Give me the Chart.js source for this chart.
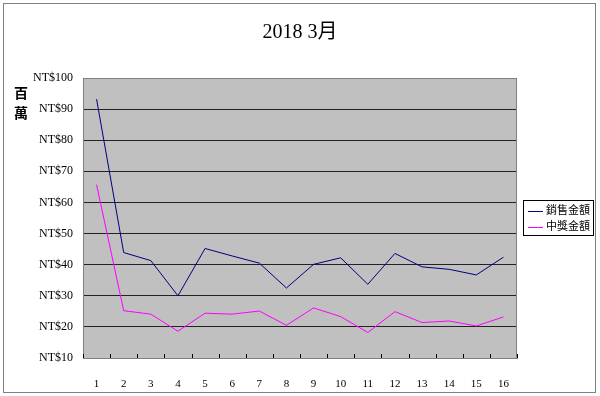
<!DOCTYPE html>
<html>
<head>
<meta charset="utf-8">
<script src="https://cdn.jsdelivr.net/npm/chart.js@4"></script>
<style>
  body { margin: 0; background: #fff; }
  #wrap { position: relative; width: 600px; height: 396px; }
  #frame { position: absolute; left: 3px; top: 3px; width: 591px; height: 388px;
           border: 1px solid #808080; pointer-events: none; }
  #unit { position: absolute; left: 14px; top: 82px; font: bold 14px "Noto Sans CJK TC";
          line-height: 20px; color: #000; }
  #legend { position: absolute; left: 523px; top: 200px; width: 69px; height: 34px;
            border: 1px solid #000; font: 11px "Noto Sans CJK TC"; color: #000; }
  #legend div { height: 15px; line-height: 15px; margin-top: 1px; white-space: nowrap; }
  #legend span.ln { display: inline-block; width: 15px; height: 0; border-top: 1px solid;
                    vertical-align: middle; margin: 0 3px 0 4px; }
</style>
</head>
<body>
<div id="wrap">
  <canvas id="chart" width="600" height="396"></canvas>
  <div id="unit">百<br>萬</div>
  <div id="legend"></div>
  <div id="frame"></div>
</div>
<script>
  // data (millions NT$)
  const days = ['1','2','3','4','5','6','7','8','9','10','11','12','13','14','15','16'];
  const sales = [93.2, 43.9, 41.3, 30.0, 45.2, 42.8, 40.5, 32.5, 40.1, 42.2, 33.7, 43.6, 39.3, 38.5, 36.7, 42.4];
  const prizes = [65.7, 25.2, 24.1, 18.6, 24.4, 24.1, 25.1, 20.5, 26.1, 23.3, 18.2, 24.9, 21.4, 21.9, 20.3, 23.2];
  const seriesNames = ['銷售金額', '中獎金額'];
  const seriesColors = ['#000080', '#ff00ff'];

  // grey plot area with frame
  const plotBg = {
    id: 'plotBg',
    beforeDraw(chart) {
      const { ctx, chartArea: a } = chart;
      ctx.save();
      ctx.fillStyle = '#c0c0c0';
      ctx.fillRect(a.left, a.top, a.right - a.left, a.bottom - a.top);
      ctx.restore();
    },
    afterDatasetsDraw(chart) {
      const { ctx, chartArea: a } = chart;
      const x = chart.scales.x;
      ctx.save();
      ctx.strokeStyle = '#808080';
      ctx.lineWidth = 1;
      ctx.strokeRect(a.left + 0.5, a.top + 0.5, a.right - a.left - 1, a.bottom - a.top);
      // small tick marks inside the plot
      ctx.strokeStyle = '#000';
      ctx.beginPath();
      for (let i = 0; i <= days.length; i++) {
        const px = Math.round(x.getPixelForValue(i - 0.5)) + 0.5;
        ctx.moveTo(px, a.bottom);
        ctx.lineTo(px, a.bottom - 4);
      }
      ctx.stroke();
      ctx.restore();
    }
  };

  new Chart(document.getElementById('chart'), {
    type: 'line',
    data: {
      labels: days,
      datasets: [{
        label: seriesNames[0],
        data: sales,
        borderColor: seriesColors[0],
        borderWidth: 1,
        pointRadius: 0,
        tension: 0
      }, {
        label: seriesNames[1],
        data: prizes,
        borderColor: seriesColors[1],
        borderWidth: 1,
        pointRadius: 0,
        tension: 0
      }]
    },
    options: {
      responsive: false,
      animation: false,
      layout: { padding: { left: 0, right: 0, top: 21, bottom: 0 } },
      plugins: {
        legend: { display: false },
        tooltip: { enabled: false },
        title: {
          display: true,
          text: '2018 3月',
          color: '#000',
          font: { family: '"Liberation Serif", "Noto Sans CJK TC"', size: 20, weight: 'normal' },
          padding: { top: 0, bottom: 33 }
        }
      },
      scales: {
        x: {
          offset: true,
          grid: { display: false },
          border: { display: true, color: '#808080' },
          ticks: { color: '#000', padding: 12, font: { family: '"Liberation Serif"', size: 11 } },
          afterFit(scale) { scale.height = 38; }
        },
        y: {
          min: 10,
          max: 100,
          grid: {
            drawTicks: false,
            color: (c) => (c.tick && (c.tick.value === 10 || c.tick.value === 100)) ? '#808080' : '#222'
          },
          border: { display: true, color: '#808080' },
          ticks: {
            stepSize: 10,
            padding: 10,
            color: '#000',
            font: { family: '"Liberation Serif"', size: 12 },
            callback: (v) => 'NT$' + v
          },
          afterFit(scale) { scale.width = 83; }
        },
        // empty right-hand space that holds the legend box
        yRight: {
          position: 'right',
          min: 10,
          max: 100,
          grid: { display: false },
          border: { display: false },
          ticks: { display: false },
          afterFit(scale) { scale.width = 83; }
        }
      }
    },
    plugins: [plotBg]
  });

  // legend box
  const lg = document.getElementById('legend');
  seriesNames.forEach((name, i) => {
    const row = document.createElement('div');
    row.innerHTML = '<span class="ln" style="border-color:' + seriesColors[i] + '"></span>' + name;
    lg.appendChild(row);
  });
</script>
</body>
</html>
